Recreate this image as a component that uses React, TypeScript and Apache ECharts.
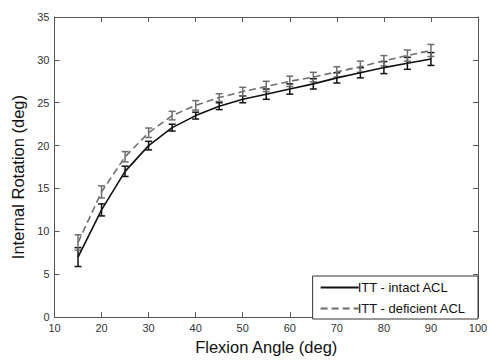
import React, { useEffect, useRef } from "react";
import * as echarts from "echarts";

const angles = [15, 20, 25, 30, 35, 40, 45, 50, 55, 60, 65, 70, 75, 80, 85, 90];
const intactMean = [7.0, 12.5, 17.0, 20.0, 22.1, 23.5, 24.6, 25.4, 26.0, 26.6, 27.2, 27.9, 28.5, 29.1, 29.6, 30.1];
const intactErr = [1.1, 0.7, 0.6, 0.5, 0.4, 0.4, 0.4, 0.4, 0.6, 0.6, 0.6, 0.6, 0.6, 0.7, 0.7, 0.75];
const deficientMean = [8.7, 14.6, 18.7, 21.5, 23.5, 24.7, 25.6, 26.3, 26.9, 27.5, 28.0, 28.6, 29.2, 29.9, 30.5, 31.1];
const deficientErr = [0.9, 0.7, 0.6, 0.55, 0.5, 0.55, 0.45, 0.5, 0.6, 0.6, 0.55, 0.6, 0.65, 0.6, 0.65, 0.7];
const xTicks = [10, 20, 30, 40, 50, 60, 70, 80, 90, 100];
const yTicks = [0, 5, 10, 15, 20, 25, 30, 35];

const INTACT_COLOR = "#111111";
const DEF_COLOR = "#6e6e6e";
const FRAME = "#555555";

function errBarSeries(name: string, means: number[], errs: number[], color: string) {
  const data = angles.map((a, i) => [a, means[i] - errs[i], means[i] + errs[i]]);
  return {
    name: name + "-err",
    type: "custom",
    silent: true,
    z: 3,
    renderItem: (params: any, api: any) => {
      const x = api.value(0);
      const lo = api.coord([x, api.value(1)]);
      const hi = api.coord([x, api.value(2)]);
      const w = 3.5;
      const style = { stroke: color, lineWidth: 1.5 };
      return {
        type: "group",
        children: [
          { type: "line", shape: { x1: lo[0], y1: lo[1], x2: hi[0], y2: hi[1] }, style },
          { type: "line", shape: { x1: lo[0] - w, y1: lo[1], x2: lo[0] + w, y2: lo[1] }, style },
          { type: "line", shape: { x1: hi[0] - w, y1: hi[1], x2: hi[0] + w, y2: hi[1] }, style },
        ],
      };
    },
    data,
  };
}

export default function App() {
  const ref = useRef<HTMLDivElement>(null);
  useEffect(() => {
    if (!ref.current) return;
    const chart = echarts.init(ref.current, null, { renderer: "svg" });
    const font = "'Liberation Sans', Arial, sans-serif";
    const axisCommon = {
      axisLine: { show: true, onZero: false, lineStyle: { color: FRAME, width: 1 } },
      axisTick: { show: true, inside: true, length: 5, lineStyle: { color: FRAME } },
      splitLine: { show: false },
    };
    chart.setOption({
      animation: false,
      backgroundColor: "#ffffff",
      textStyle: { fontFamily: font },
      grid: { left: 54.5, right: 15, top: 17, bottom: 36 },
      xAxis: [
        {
          ...axisCommon,
          type: "value",
          min: xTicks[0],
          max: xTicks[xTicks.length - 1],
          interval: 10,
          position: "bottom",
          name: "Flexion Angle (deg)",
          nameLocation: "middle",
          nameGap: 18,
          nameTextStyle: { fontSize: 16.5, color: "#111", fontFamily: font },
          axisLabel: { fontSize: 11, color: "#333", margin: 5, fontFamily: font },
        },
        {
          ...axisCommon,
          type: "value",
          min: xTicks[0],
          max: xTicks[xTicks.length - 1],
          interval: 10,
          position: "top",
          axisLabel: { show: false },
        },
      ],
      yAxis: [
        {
          ...axisCommon,
          type: "value",
          min: yTicks[0],
          max: yTicks[yTicks.length - 1],
          interval: 5,
          position: "left",
          name: "Internal Rotation (deg)",
          nameLocation: "middle",
          nameGap: 21,
          nameTextStyle: { fontSize: 16.5, color: "#111", fontFamily: font, padding: [0, 20, 0, 0] },
          axisLabel: { fontSize: 11, color: "#333", margin: 5, fontFamily: font },
        },
        {
          ...axisCommon,
          type: "value",
          min: yTicks[0],
          max: yTicks[yTicks.length - 1],
          interval: 5,
          position: "right",
          axisLabel: { show: false },
        },
      ],
      legend: {
        orient: "vertical",
        right: 15,
        bottom: 41,
        padding: [5, 12, 4, 7],
        itemGap: 8,
        itemWidth: 38,
        itemHeight: 12,
        backgroundColor: "#ffffff",
        borderColor: "#333",
        borderWidth: 1,
        borderRadius: 0,
        itemStyle: { opacity: 0 },
        textStyle: { fontSize: 13, color: "#111", fontFamily: font, padding: [0, 0, 0, -6] },
        data: ["ITT - intact ACL", "ITT - deficient ACL"],
      },
      series: [
        {
          name: "ITT - intact ACL",
          type: "line",
          data: angles.map((a, i) => [a, intactMean[i]]),
          symbol: "none",
          lineStyle: { color: INTACT_COLOR, width: 1.6 },
          itemStyle: { color: INTACT_COLOR },
          z: 4,
        },
        {
          name: "ITT - deficient ACL",
          type: "line",
          data: angles.map((a, i) => [a, deficientMean[i]]),
          symbol: "none",
          lineStyle: { color: DEF_COLOR, width: 1.6, type: [7, 4] },
          itemStyle: { color: DEF_COLOR },
          z: 4,
        },
        errBarSeries("intact", intactMean, intactErr, INTACT_COLOR),
        errBarSeries("deficient", deficientMean, deficientErr, DEF_COLOR),
      ],
    });
    return () => chart.dispose();
  }, []);
  return <div ref={ref} style={{ width: 493, height: 360, position: "absolute", left: 0, top: 0 }} />;
}
